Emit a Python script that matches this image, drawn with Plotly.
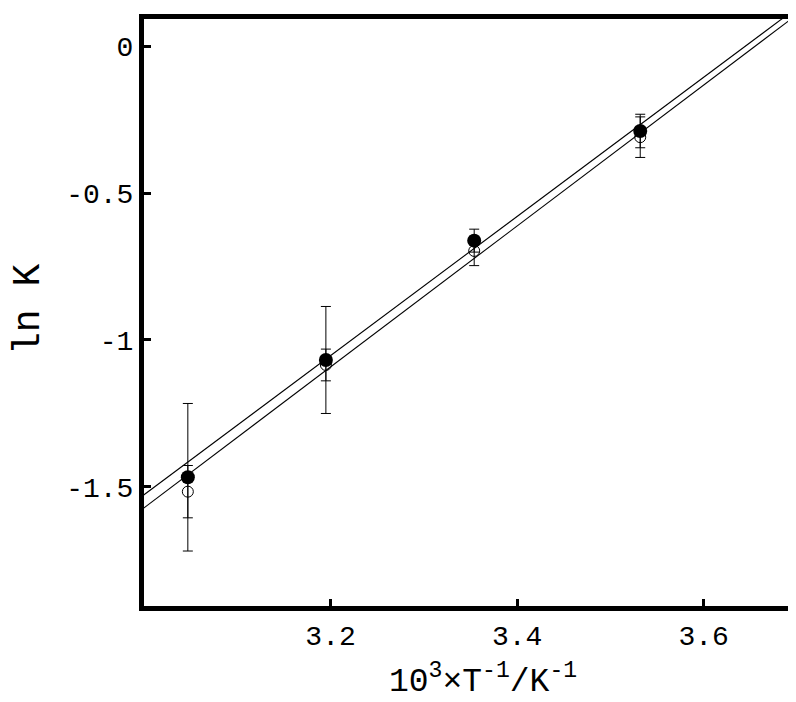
import plotly.graph_objects as go

# data
inv_T = [3.047, 3.195, 3.354, 3.532]            # 10^3/T (K^-1)
lnK_filled = [-1.467, -1.068, -0.662, -0.289]
err_filled = [0.251, 0.182, 0.039, 0.057]
lnK_open = [-1.516, -1.085, -0.697, -0.310]
err_open = [0.089, 0.054, 0.050, 0.069]

fit_x = [2.98, 3.72]
fit_upper = [-1.574, 0.178]
fit_lower = [-1.619, 0.155]

x_ticks = [3.2, 3.4, 3.6]
y_ticks = [0, -0.5, -1, -1.5]
y_tick_text = ["0", "-0.5", "-1", "-1.5"]

FONT = "Liberation Mono, Courier New, monospace"

# the page body has an 8px margin; the figure is sized/positioned to compensate
W, H = 788, 694
L, T, B = 136, 11, 96
PW, PH = W - L, H - T - B

fig = go.Figure()
fig.add_trace(go.Scatter(x=fit_x, y=fit_upper, mode="lines",
                         line=dict(color="black", width=1.1), showlegend=False))
fig.add_trace(go.Scatter(x=fit_x, y=fit_lower, mode="lines",
                         line=dict(color="black", width=1.1), showlegend=False))
fig.add_trace(go.Scatter(x=inv_T, y=lnK_open, mode="markers",
                         marker=dict(symbol="circle-open", size=11, color="black",
                                     line=dict(width=1, color="black")),
                         error_y=dict(type="data", array=err_open, color="black",
                                      thickness=1, width=5),
                         showlegend=False))
fig.add_trace(go.Scatter(x=inv_T, y=lnK_filled, mode="markers",
                         marker=dict(symbol="circle", size=14, color="black"),
                         error_y=dict(type="data", array=err_filled, color="black",
                                      thickness=1, width=5),
                         showlegend=False))

fig.update_layout(
    width=W, height=H,
    margin=dict(l=L, r=0, t=T, b=B),
    paper_bgcolor="white", plot_bgcolor="white",
    font=dict(family=FONT, color="black", size=28),
    xaxis=dict(range=[3.0, 3.699], tickvals=x_ticks, ticktext=[f"{v:.1f}" for v in x_ticks],
               ticks="inside", ticklen=7, tickwidth=3, tickcolor="black",
               showline=True, linewidth=5, linecolor="black", mirror=True,
               showgrid=False, zeroline=False,
               tickfont=dict(family=FONT, size=28)),
    yaxis=dict(range=[-1.905, 0.092], tickvals=y_ticks, ticktext=y_tick_text,
               ticks="inside", ticklen=7, tickwidth=3, tickcolor="black",
               showline=True, linewidth=5, linecolor="black", mirror=False,
               showgrid=False, zeroline=False,
               tickfont=dict(family=FONT, size=28)),
    annotations=[
        dict(text="10<sup>3</sup>×T<sup>-1</sup>/K<sup>-1</sup>", xref="paper", yref="paper",
             x=(475 - L) / PW, y=-(672 - (T + PH)) / PH, xanchor="center", yanchor="middle",
             showarrow=False, font=dict(family=FONT, size=33)),
        dict(text="ln K", xref="paper", yref="paper", textangle=-90,
             x=-(L - 20) / PW, y=((T + PH) - 302) / PH, xanchor="center", yanchor="middle",
             showarrow=False, font=dict(family=FONT, size=38)),
    ],
)

fig.write_html("out.html")
